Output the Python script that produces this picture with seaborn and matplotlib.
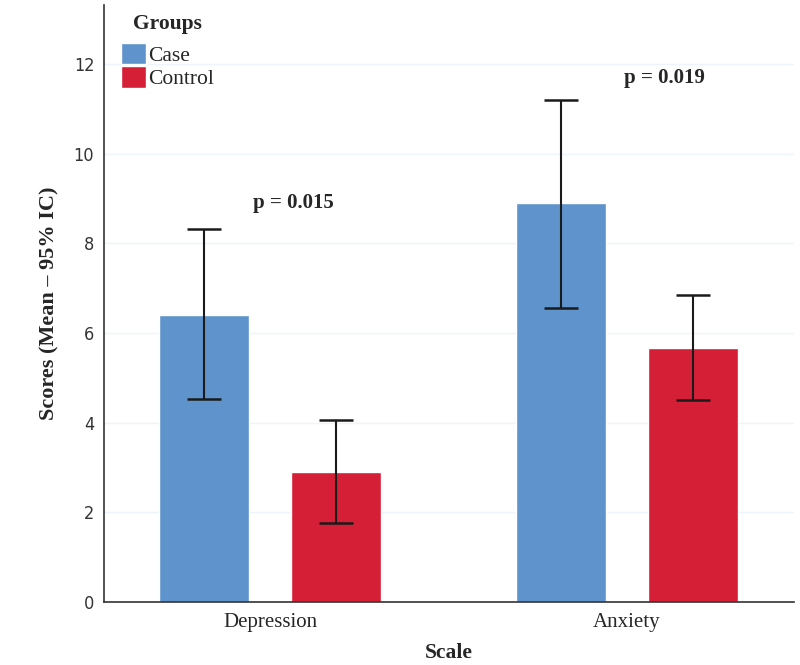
import pandas as pd
import matplotlib.pyplot as plt
import seaborn as sns

# Values
scales = ['Depression', 'Anxiety']
groups = ['Case', 'Control']
case_means = [6.41, 8.90]
control_means = [2.90, 5.67]
case_lower = [4.52, 6.57]
case_upper = [8.32, 11.21]
control_lower = [1.76, 4.51]
control_upper = [4.05, 6.84]
p_labels = ['p = 0.015', 'p = 0.019']
p_pos = [(0.065, 8.9), (1.106, 11.69)]
y_ticks = [0, 2, 4, 6, 8, 10, 12]

COLORS = {'Case': '#5f93cc', 'Control': '#d51f37'}
SERIF = ['Liberation Serif', 'DejaVu Serif']
NARROW = ['DejaVu Sans', 'Liberation Sans']

df = pd.DataFrame({
    'Scale': scales * 2,
    'Group': [groups[0]] * 2 + [groups[1]] * 2,
    'Score': case_means + control_means,
    'lower': case_lower + control_lower,
    'upper': case_upper + control_upper,
})

sns.set_style('white')
plt.rcParams['font.family'] = SERIF

fig = plt.figure(figsize=(8, 6.65), dpi=100)
ax = fig.add_axes([0.13, 0.0947, 0.8625, 0.8978])

sns.barplot(data=df, x='Scale', y='Score', hue='Group', order=scales,
            hue_order=groups, palette=COLORS, width=0.74, gap=0.32,
            errorbar=None, saturation=1, ax=ax)

# confidence intervals on top of the bars
for patch, (_, row) in zip(ax.patches, df.iterrows()):
    xc = patch.get_x() + patch.get_width() / 2
    ax.errorbar(xc, row['Score'],
                yerr=[[row['Score'] - row['lower']], [row['upper'] - row['Score']]],
                fmt='none', ecolor='#1a1a1a', elinewidth=1.5, capsize=12,
                capthick=1.8, zorder=5)

for label, (px, py) in zip(p_labels, p_pos):
    ax.text(px, py, label, ha='center', va='center', fontsize=15,
            fontweight='bold', family=SERIF)

ax.set_xlim(-0.465, 1.468)
ax.set_ylim(0, 13.32)
ax.set_yticks(y_ticks)
ax.yaxis.grid(True, color='#eef4fb', linewidth=1)
ax.set_axisbelow(True)
for side in ['top', 'right']:
    ax.spines[side].set_visible(False)
for side in ['left', 'bottom']:
    ax.spines[side].set_color('#333333')
    ax.spines[side].set_linewidth(1.2)
ax.tick_params(length=0)
for t in ax.get_yticklabels():
    t.set_family(NARROW)
    t.set_fontstretch('condensed')
    t.set_fontsize(13)
    t.set_color('#333333')
for t in ax.get_xticklabels():
    t.set_fontsize(15)
ax.tick_params(axis='x', pad=8)
ax.tick_params(axis='y', pad=7)

ax.set_xlabel('Scale', fontsize=15.5, fontweight='bold', labelpad=8)
ax.set_ylabel('Scores (Mean \u2013 95% IC)', fontsize=16, fontweight='bold',
              labelpad=10)

handles, labels = ax.get_legend_handles_labels()
leg = ax.legend(handles, labels, title='Groups', loc='upper left',
                bbox_to_anchor=(0.0, 1.013), frameon=False, fontsize=15.5,
                handlelength=1.15, handleheight=1.15, handletextpad=0.1,
                labelspacing=0.02, borderaxespad=0.5, borderpad=0.3)
leg.get_title().set_fontweight('bold')
leg.get_title().set_fontsize(15.5)
leg._legend_box.sep = 6

fig.savefig('out.png', dpi=100)
